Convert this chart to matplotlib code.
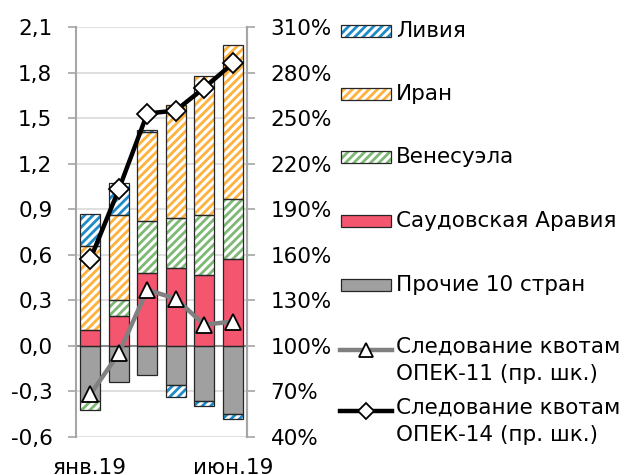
import numpy as np
import matplotlib
matplotlib.use("Agg")
import matplotlib.pyplot as plt
from matplotlib.patches import Rectangle
from matplotlib.lines import Line2D

plt.rcParams['font.family'] = ['DejaVu Sans']
plt.rcParams['font.size'] = 15.5
plt.rcParams['hatch.linewidth'] = 2.0

months = ["янв.19", "фев.19", "мар.19", "апр.19", "май.19", "июн.19"]

# вклад стран, млн барр./сут.
others = [-0.36, -0.24, -0.19, -0.26, -0.36, -0.45]
saudi = [0.105, 0.20, 0.48, 0.51, 0.47, 0.57]
venezuela = [-0.06, 0.10, 0.34, 0.33, 0.39, 0.40]
iran = [0.555, 0.56, 0.59, 0.745, 0.92, 1.01]
libya = [0.21, 0.21, 0.01, -0.075, -0.035, -0.03]

# следование квотам, %
opec11 = [68, 95, 137, 131, 114, 116]
opec14 = [157, 203, 253, 255, 270, 286]

series = [
    ("Прочие 10 стран", others, "#A0A0A0", None),
    ("Саудовская Аравия", saudi, "#F4566F", None),
    ("Венесуэла", venezuela, "#7DB874", "////"),
    ("Иран", iran, "#FFB13D", "////"),
    ("Ливия", libya, "#1F8AC8", "////"),
]

W, H = 625, 475
fig = plt.figure(figsize=(W / 100, H / 100), dpi=100)
ax = fig.add_axes([76 / W, 1 - 437 / H, (247 - 76) / W, (437 - 27) / H])

x = np.arange(len(months))
pos = np.zeros(len(x))
neg = np.zeros(len(x))
for name, vals, col, hatch in series:
    v = np.array(vals)
    bottom = np.where(v >= 0, pos, neg)
    if hatch:
        ax.bar(x, v, 0.7, bottom=bottom, facecolor="white", edgecolor=col,
               hatch=hatch, linewidth=0, zorder=2)
    else:
        ax.bar(x, v, 0.7, bottom=bottom, color=col, linewidth=0, zorder=2)
    ax.bar(x, v, 0.7, bottom=bottom, fill=False, edgecolor="#262626",
           linewidth=0.9, zorder=3)
    pos = pos + np.where(v >= 0, v, 0)
    neg = neg + np.where(v < 0, v, 0)

ax.set_xlim(-0.5, len(x) - 0.5)
ax.set_ylim(-0.6, 2.1)
yt = np.arange(-0.6, 2.11, 0.3)
ax.set_yticks(yt)
ax.set_yticklabels([f"{t:.1f}".replace(".", ",").replace("-0,0", "0,0") for t in yt])
ax.yaxis.grid(True, color="#D9D9D9", lw=1.2, zorder=0)
ax.set_axisbelow(True)
ax.axhline(0, color="#8C8C8C", lw=1.5, zorder=1)
ax.set_xticks([0, 5])
ax.set_xticklabels([months[0], months[5]])
ax.tick_params(axis="x", length=0, pad=15)
ax.tick_params(axis="y", length=6, width=1.2, color="#A6A6A6", pad=11)
for s in ["top", "bottom"]:
    ax.spines[s].set_visible(False)
for s in ["left", "right"]:
    ax.spines[s].set_color("#A6A6A6")
    ax.spines[s].set_linewidth(1.5)

ax2 = ax.twinx()
ax2.set_ylim(40, 310)
ax2.set_yticks(np.arange(40, 311, 30))
ax2.yaxis.set_major_formatter(plt.FuncFormatter(lambda v, p: f"{v:.0f}%"))
ax2.tick_params(axis="y", length=6, width=1.2, color="#A6A6A6", pad=11)
for s in ["top", "bottom", "left"]:
    ax2.spines[s].set_visible(False)
ax2.spines["right"].set_color("#A6A6A6")
ax2.spines["right"].set_linewidth(1.5)

ax2.plot(x, opec11, color="#808080", lw=3.2, marker="^", ms=12,
         mfc="white", mec="black", mew=1.3, zorder=5)
ax2.plot(x, opec14, color="black", lw=3.2, marker="D", ms=10,
         mfc="white", mec="black", mew=1.3, zorder=6)

# легенда справа
def px(xp, yp):
    return xp / W, 1 - yp / H

def patch_entry(yc, label, col, hatch):
    x0, y0 = px(341, yc + 6)
    w, h = 50 / W, 12 / H
    if hatch:
        fig.add_artist(Rectangle((x0, y0), w, h, transform=fig.transFigure,
                                 facecolor="white", edgecolor=col, hatch=hatch, lw=0))
    else:
        fig.add_artist(Rectangle((x0, y0), w, h, transform=fig.transFigure,
                                 facecolor=col, lw=0))
    fig.add_artist(Rectangle((x0, y0), w, h, transform=fig.transFigure,
                             fill=False, edgecolor="#262626", lw=0.9))
    fig.text(*px(396, yc), label, va="center", ha="left")

def line_entry(yc, label, col, marker, ms):
    x0, y0 = px(340, yc)
    x1, _ = px(392, yc)
    fig.add_artist(Line2D([x0, x1], [y0, y0], transform=fig.transFigure,
                          color=col, lw=3.2))
    fig.add_artist(Line2D([(x0 + x1) / 2], [y0], transform=fig.transFigure,
                          marker=marker, ms=ms, mfc="white", mec="black", mew=1.3))
    fig.text(*px(396, yc - 13), label, va="top", ha="left", linespacing=1.45)

legend_rows = [31, 94, 157, 221, 285]
for yc, (name, vals, col, hatch) in zip(legend_rows, series[::-1]):
    patch_entry(yc, name, col, hatch)

line_entry(350, "Следование квотам\nОПЕК-11 (пр. шк.)", "#808080", "^", 10)
line_entry(411, "Следование квотам\nОПЕК-14 (пр. шк.)", "black", "D", 8)

fig.savefig("out.png", dpi=100)
